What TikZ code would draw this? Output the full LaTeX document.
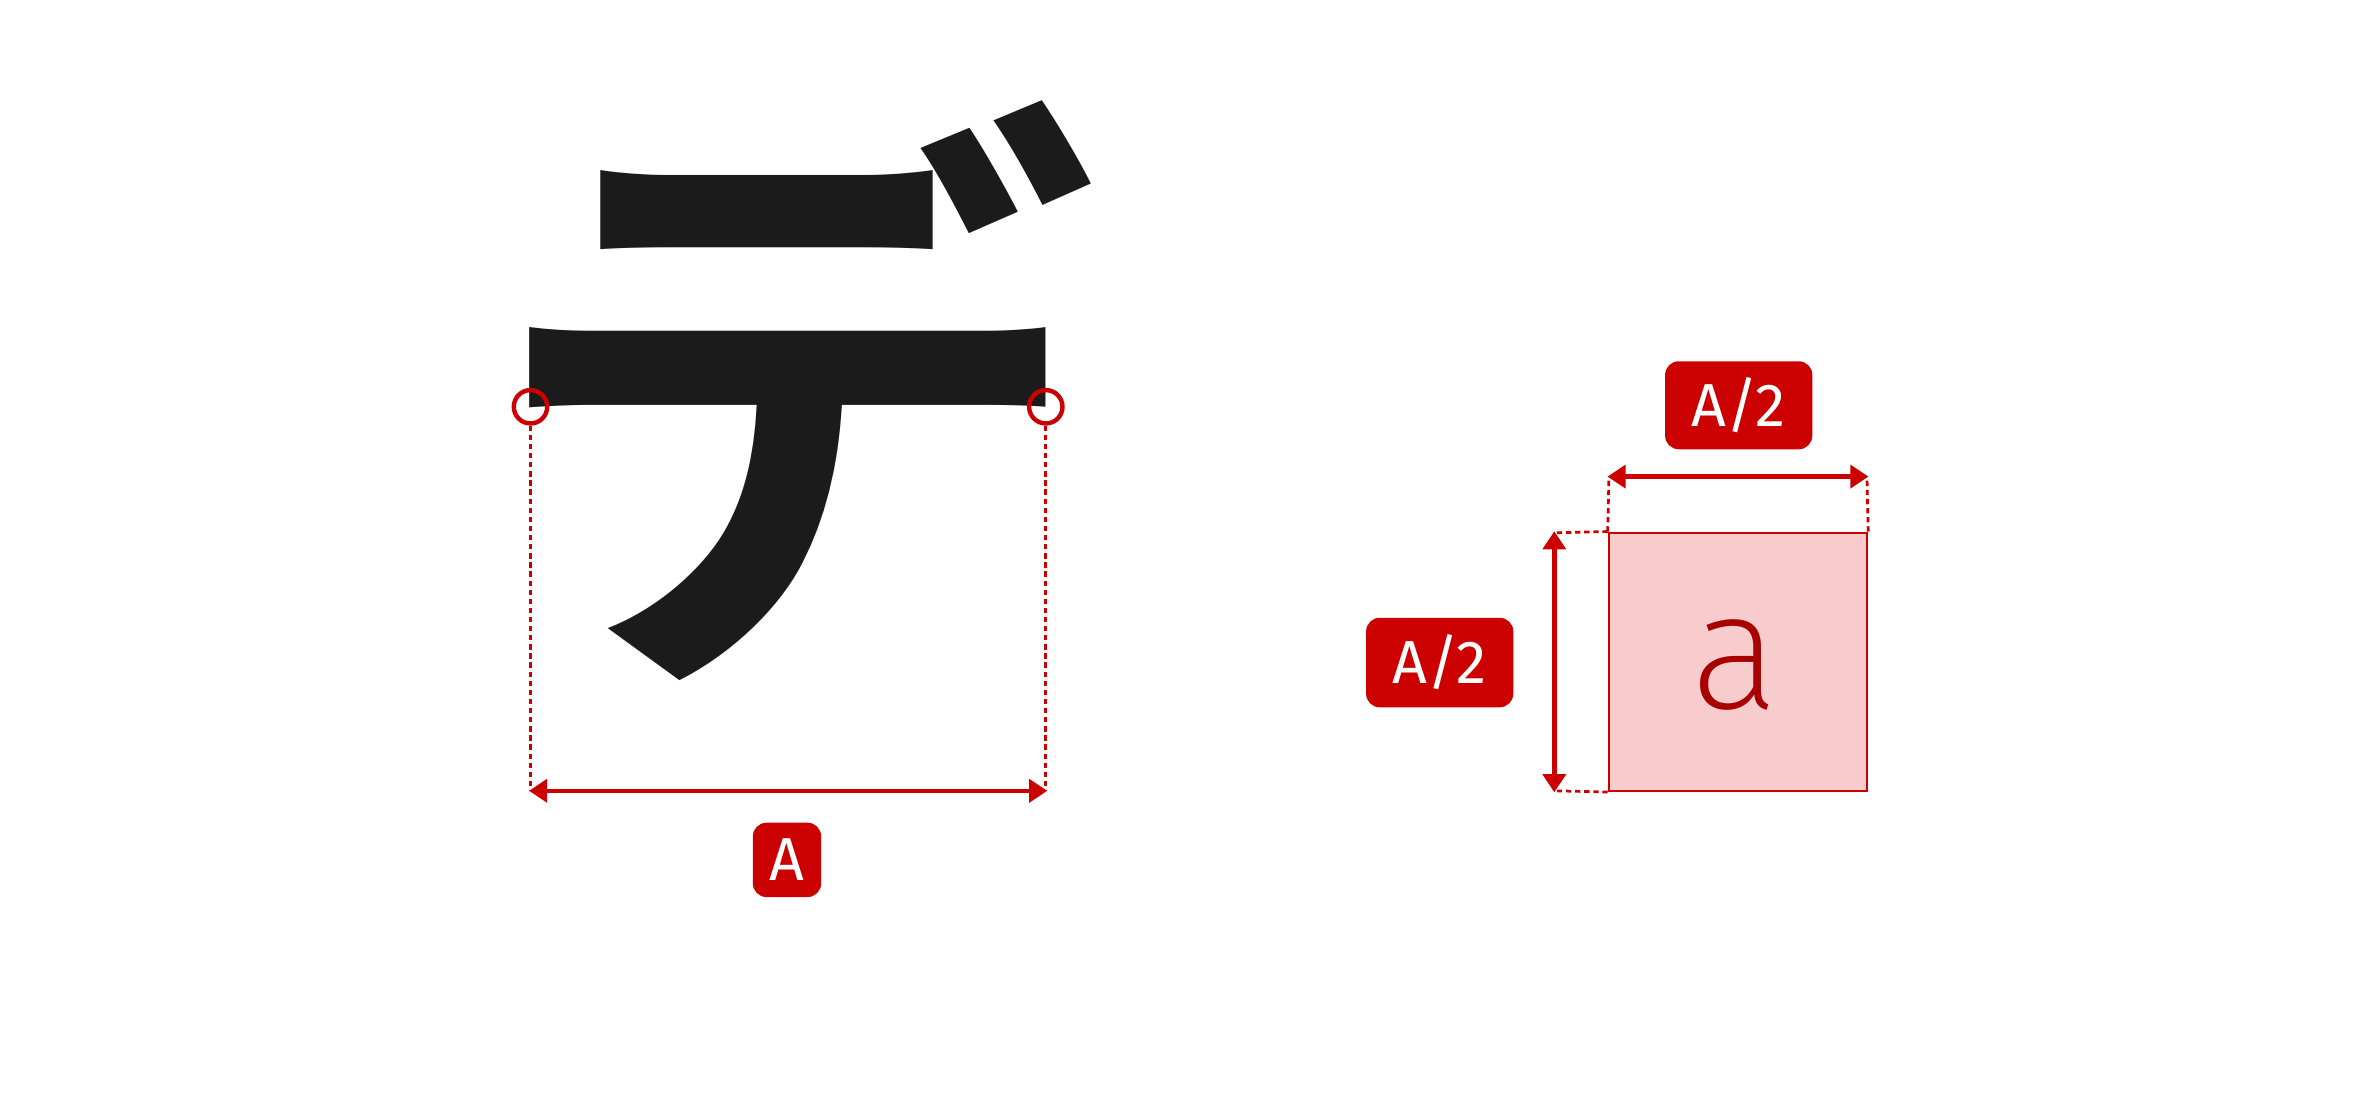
\documentclass[tikz,border=0pt]{standalone}
\usepackage{fontspec}
\usetikzlibrary{arrows.meta}
\newfontfamily\jpfont{Noto Sans CJK JP}[BoldFont=* Bold]
\newfontfamily\labelfont{Fira Sans}
\newfontfamily\thinfont{Fira Sans}[UprightFont=* ExtraLight]
\definecolor{dimred}{HTML}{CC0000}
\definecolor{darkred}{HTML}{A80000}
\definecolor{pinkfill}{HTML}{F8CCCC}
\definecolor{glyph}{HTML}{1B1B1B}
\tikzset{
  dimarrow/.style={draw=dimred, line width=3pt, {Triangle[length=12pt,width=15pt]}-{Triangle[length=12pt,width=15pt]}, shorten <=-1pt, shorten >=-1pt},
  guide/.style={draw=dimred, line width=1.8pt, dash pattern=on 3.5pt off 2.5pt},
  tag/.style={fill=dimred, text=white, rounded corners=9pt, inner sep=0pt, font=\labelfont\fontsize{40}{40}\selectfont},
  marker/.style={circle, draw=dimred, line width=2.9pt, minimum size=22pt, inner sep=0pt},
  sqbox/.style={draw=dimred, fill=pinkfill, line width=1.6pt, minimum size=170pt, inner sep=0pt}
}
\begin{document}
\begin{tikzpicture}[x=1pt,y=-1pt]
\useasboundingbox (0,0) rectangle (1568,725);
% glyph
\node[anchor=base west, inner sep=0pt, text=glyph, font=\jpfont\bfseries\fontsize{404}{404}\selectfont] (de) at (319.8,417.6) {デ};
% left markers and dimension
\node[marker] (cL) at (349.5,268) {};
\node[marker] (cR) at (689,268) {};
\coordinate (LB) at (349.5,521);
\coordinate (RB) at (689,521);
\draw[guide] (cL.south) -- (LB);
\draw[guide] (cR.south) -- (RB);
\draw[dimarrow] (LB) -- (RB);
\node[tag, minimum width=45pt, minimum height=49pt] (tagA) at (518.5,566.5) {A};
% right square
\node[sqbox] (sq) at (1145,436) {};
\node[anchor=base, inner sep=0pt, text=darkred, font=\thinfont\fontsize{110}{110}\selectfont] (aa) at (1143,467) {a};
\coordinate (tL) at (1060,314);
\coordinate (tR) at (1230,314);
\draw[guide] (sq.north west) -- (tL);
\draw[guide] (sq.north east) -- (tR);
\draw[dimarrow] (tL) -- (tR);
\coordinate (lT) at (1024,351);
\coordinate (lB) at (1024,521);
\draw[guide] (sq.north west) -- (lT);
\draw[guide] (sq.south west) -- (lB);
\draw[dimarrow] (lT) -- (lB);
\node[tag, minimum width=97pt, minimum height=58pt] (tagTop) at (1145.5,267) {A/2};
\node[tag, minimum width=97pt, minimum height=59pt] (tagLeft) at (948.5,436.5) {A/2};
\end{tikzpicture}
\end{document}
